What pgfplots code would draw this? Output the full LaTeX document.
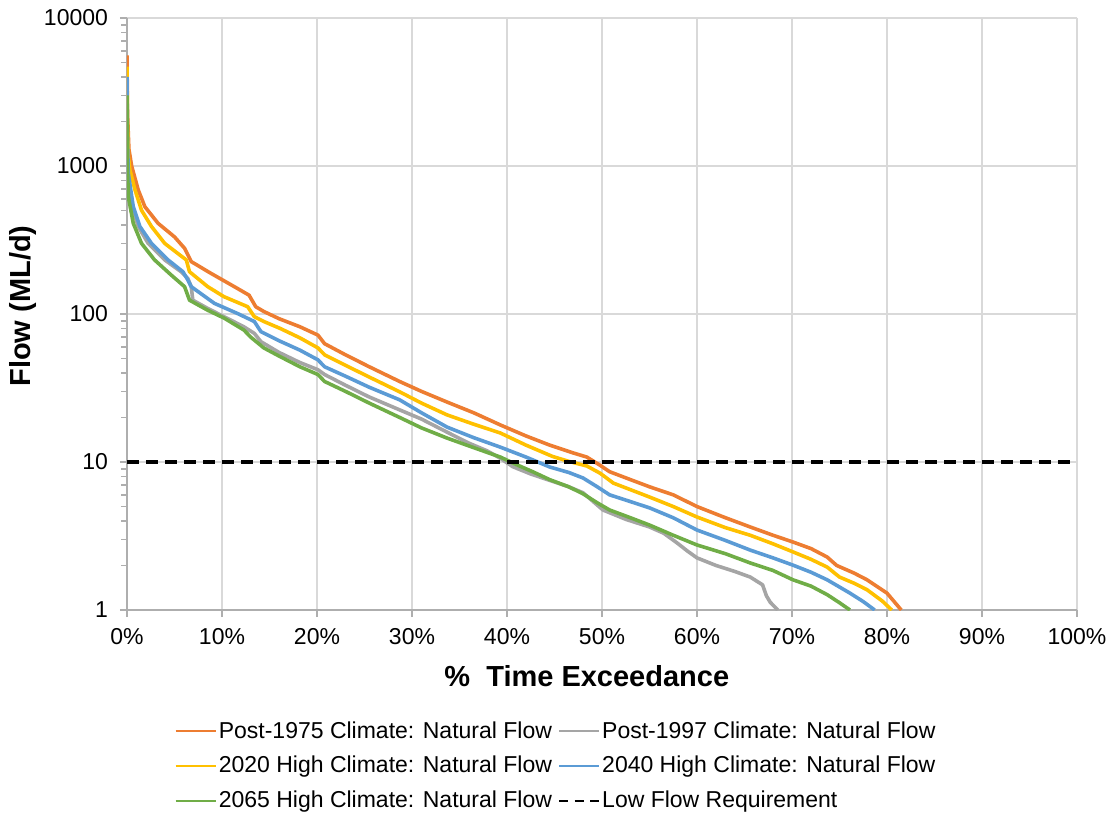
\documentclass[border=0pt]{standalone}
\usepackage{fontspec}
\setmainfont{Liberation Sans}
\usepackage{pgfplots}
\pgfplotsset{compat=1.18}
\definecolor{orangeS}{HTML}{ED7D31}
\definecolor{grayS}{HTML}{A5A5A5}
\definecolor{yellowS}{HTML}{FFC000}
\definecolor{blueS}{HTML}{5B9BD5}
\definecolor{greenS}{HTML}{70AD47}
\definecolor{gridS}{HTML}{D9D9D9}
\begin{document}
\begin{tikzpicture}
\begin{semilogyaxis}[
  scale only axis, width=475pt, height=296pt,
  xmin=0, xmax=100, ymin=1, ymax=10000,
  xtick={0,10,...,100},
  xticklabel={\pgfmathprintnumber{\tick}\%},
  ytick={1,10,100,1000,10000}, yticklabels={1,10,100,1000,10000},
  minor ytick={}, yminorgrids=false,
  /pgf/number format/assume math mode=true,
  grid=major, grid style={gridS, line width=0.8pt},
  axis x line*=bottom, axis y line*=left,
  axis line style={draw=gridS!80!black, line width=0.8pt},
  tick align=outside, major tick length=3.5pt,
  tick style={draw=gridS!80!black, line width=0.8pt},
  ticklabel style={font=\fontsize{11.5}{13}\selectfont},
  xticklabel style={yshift=-2pt},
  yticklabel style={xshift=-2.5pt},
  xlabel={\%\ \ Time Exceedance},
  ylabel={Flow (ML/d)},
  label style={font=\fontsize{14.5}{17}\selectfont\bfseries},
  xlabel style={at={(axis description cs:0.484,-0.1115)}, anchor=center},
  ylabel style={at={(axis description cs:-0.1095,0.5135)}, anchor=center},
  legend columns=2,
  legend cell align=left,
  legend style={draw=none, fill=none, at={(axis description cs:0.4516,-0.2635)}, anchor=center,
    font=\fontsize{11.5}{13}\selectfont, row sep=5.5pt,
    /tikz/every even column/.append style={column sep=2pt},
    nodes={inner sep=1pt}},
  legend image code/.code={\draw[#1, line width=1.1pt] (0pt,0pt) -- (20pt,0pt);},
  every axis plot/.append style={line width=1.8pt, line join=round},
]
\addplot[orangeS] coordinates {(0,5600) (0.05,2300) (0.2,1300) (0.49,1000) (1.18,690) (1.88,531) (3.27,410) (5.0,332) (6.06,278) (6.76,226) (8.85,188) (11.3,153) (12.85,134) (13.55,112) (14.4,104) (16,93) (18.2,82) (20.1,72) (20.8,63) (23,53) (25.5,44) (28.7,35) (31,30) (33.7,25.4) (36.5,21.5) (39.3,17.8) (42,15) (44.5,13.0) (47,11.5) (48.4,10.8) (49.8,9.5) (50.8,8.6) (53,7.6) (55,6.8) (57.5,6) (60,5.0) (63,4.2) (65.6,3.64) (68,3.2) (70.1,2.88) (72,2.6) (73.7,2.28) (74.7,2.0) (76.5,1.78) (77.9,1.6) (80,1.30) (81.5,1.0)};
\addlegendentry{Post-1975 Climate: Natural Flow}
\addplot[grayS] coordinates {(0,2500) (0.05,1100) (0.31,590) (1.18,390) (2.23,300) (3.97,232) (5.7,193) (6.4,174) (6.76,153) (6.93,124) (8.5,109) (10.2,96) (12.3,82) (13.4,74) (14.1,65) (16,55) (18.2,47) (20.1,42) (20.8,39) (23,33) (25.5,27.5) (28.7,22.5) (31,19.5) (33.7,15.9) (36,13.4) (37.9,11.9) (39.3,10.6) (40.6,9.3) (42.5,8.3) (44.8,7.4) (46.5,6.8) (48,6.2) (50.1,4.74) (52.5,4.1) (55,3.64) (56.5,3.3) (57.9,2.84) (59,2.5) (60,2.25) (62,2.0) (64,1.82) (65.6,1.67) (66.9,1.48) (67.3,1.25) (67.7,1.13) (68.5,1.0)};
\addlegendentry{Post-1997 Climate: Natural Flow}
\addplot[yellowS] coordinates {(0,4700) (0.05,1900) (0.15,1150) (0.31,940) (0.84,690) (1.53,502) (2.58,390) (3.97,300) (5.54,251) (6.24,232) (6.58,193) (8.5,153) (10.2,131) (12.7,112) (13.4,96) (14.4,89) (16.1,80) (18.2,69) (20.1,59) (20.8,53) (23,45) (25.5,37.5) (28.7,29.8) (31,25) (33.7,20.8) (36.5,18) (39.3,15.7) (42,13) (44.8,10.9) (46.5,10.1) (48.4,9.4) (49.8,8.4) (51.2,7.2) (53,6.5) (55,5.8) (57.5,5) (60,4.25) (63,3.6) (65.6,3.2) (68,2.8) (70.1,2.47) (72,2.2) (73.7,1.95) (75,1.67) (76.5,1.52) (77.9,1.37) (79.5,1.15) (80.5,1.0)};
\addlegendentry{2020 High Climate: Natural Flow}
\addplot[blueS] coordinates {(0,4000) (0.05,1500) (0.14,890) (0.66,531) (1.36,390) (2.58,300) (4.32,232) (5.89,193) (6.4,170) (6.76,153) (9.2,118) (11.6,101) (13.4,89) (14.1,76) (16,66) (18.2,57) (20.1,49) (20.8,44) (23,38) (25.5,32) (28.7,26.3) (31,21.5) (33.7,17.2) (36.5,14.6) (39.3,12.6) (42,10.8) (44.5,9.25) (46.5,8.5) (48,7.8) (49.5,6.8) (50.8,6.0) (53,5.4) (55,4.9) (57.5,4.2) (60,3.47) (63,2.95) (65.6,2.54) (68,2.25) (70.1,2.01) (72,1.8) (73.7,1.6) (75,1.43) (76.1,1.30) (77.5,1.14) (78.7,1.0)};
\addlegendentry{2040 High Climate: Natural Flow}
\addplot[greenS] coordinates {(0,3000) (0.05,1000) (0.14,620) (0.66,410) (1.53,300) (2.9,232) (4.67,183) (6.06,153) (6.58,124) (8.5,106) (10.2,94) (12.3,78) (13,70) (14.4,59) (16,52) (18.2,44) (20.1,39) (20.8,35) (23,30) (25.5,25) (28.7,20) (31,17) (33.7,14.5) (36.5,12.5) (39.3,10.8) (41,9.6) (42.7,8.6) (44.5,7.6) (46.5,6.8) (48,6.1) (49.5,5.3) (50.8,4.74) (53,4.2) (55,3.75) (57.5,3.2) (60,2.75) (63,2.4) (65.6,2.08) (68,1.85) (70.1,1.6) (72,1.45) (73.7,1.27) (75,1.12) (76.1,1.0)};
\addlegendentry{2065 High Climate: Natural Flow}
\addplot[black, line width=1.6pt, dash pattern=on 6pt off 3.5pt,
  legend image code/.code={\draw[black, line width=1.1pt, dash pattern=on 4.4pt off 3.4pt] (0pt,0pt) -- (20pt,0pt);}]
  coordinates {(0,10) (100,10)};
\addlegendentry{Low Flow Requirement}
\path (rel axis cs:0,0) coordinate (bl) (rel axis cs:1,1) coordinate (tr);
\end{semilogyaxis}
\pgfresetboundingbox
\path[use as bounding box] ([shift={(-63.5pt,-105pt)}]bl) rectangle ([shift={(18pt,9pt)}]tr);
\end{tikzpicture}
\end{document}
